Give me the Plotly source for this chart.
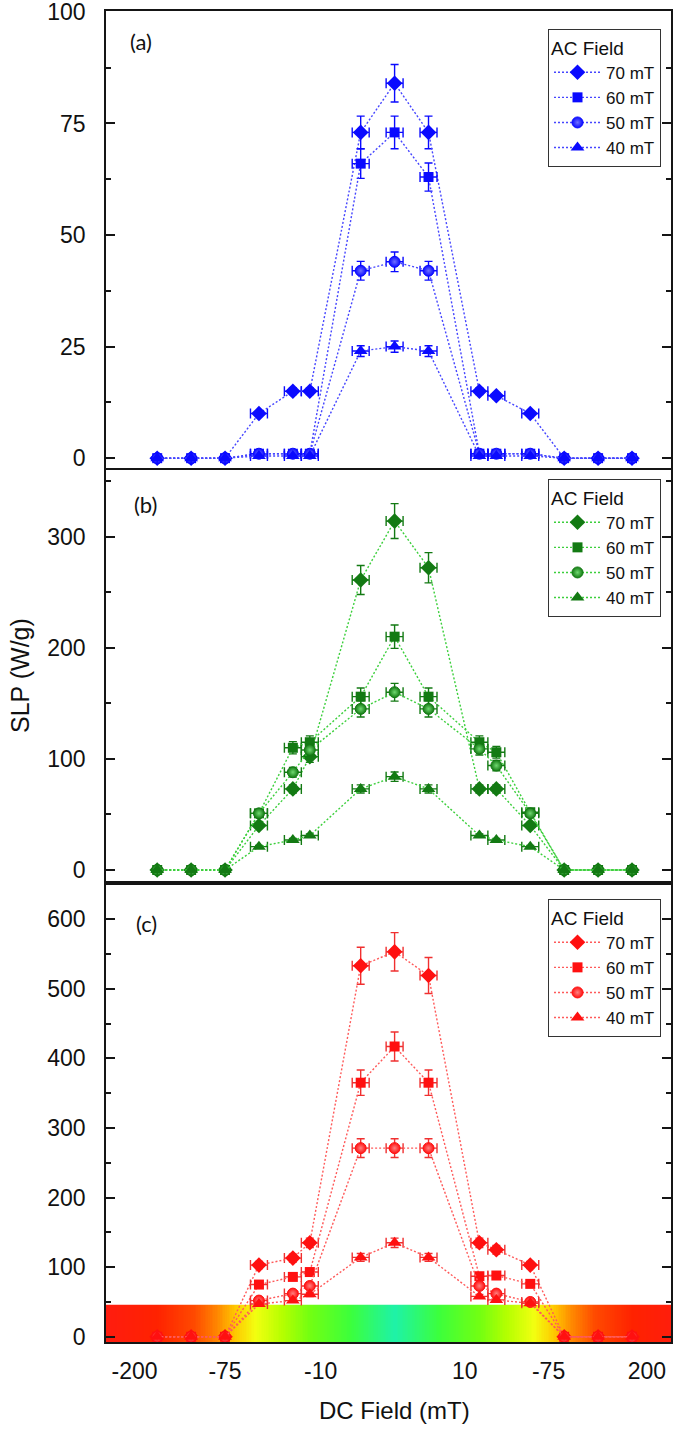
import numpy as np
import plotly.graph_objects as go

# ---------------- data ----------------
positions = [0, 1, 2, 3, 4, 4.5, 6, 7, 8, 9.5, 10, 11, 12, 13, 14]
x_err = [0, 0, 0, 0.25, 0.25, 0.25, 0.25, 0.25, 0.25, 0.25, 0.25, 0.25, 0, 0, 0]

series_names = ["70 mT", "60 mT", "50 mT", "40 mT"]

a70 = [0, 0, 0, 10, 15, 15, 73, 84, 73, 15, 14, 10, 0, 0, 0]
a60 = [0, 0, 0, 1, 1, 1, 66, 73, 63, 1, 1, 1, 0, 0, 0]
a50 = [0, 0, 0, 1, 1, 1, 42, 44, 42, 1, 1, 1, 0, 0, 0]
a40 = [0, 0, 0, 0.5, 0.5, 0.5, 24, 25, 24, 0.5, 0.5, 0.5, 0, 0, 0]

b70 = [0, 0, 0, 40, 73, 102, 261, 314, 272, 73, 73, 40, 0, 0, 0]
b60 = [0, 0, 0, 51, 110, 115, 156, 210, 156, 115, 106, 52, 0, 0, 0]
b50 = [0, 0, 0, 51, 88, 108, 145, 160, 145, 109, 94, 51, 0, 0, 0]
b40 = [0, 0, 0, 21, 27, 31, 73, 84, 73, 31, 27, 21, 0, 0, 0]

c70 = [0, 0, 0, 103, 113, 135, 533, 553, 519, 135, 125, 103, 0, 0, 0]
c60 = [0, 0, 0, 75, 86, 93, 365, 417, 365, 87, 88, 76, 0, 0, 0]
c50 = [0, 0, 0, 52, 62, 73, 271, 271, 271, 73, 62, 50, 0, 0, 0]
c40 = [0, 0, 0, 47, 52, 61, 114, 135, 114, 58, 53, 48, 0, 0, 0]

y_err_percent = 5

x_tick_vals = [-0.67, 2.0, 4.82, 9.07, 11.54, 14.44]
x_tick_text = ["-200", "-75", "-10", "10", "-75", "200"]

# gradient band (panel c): distance from centre -> colour
band_stops_d = [0, 1.3, 2.5, 3.3, 4.1, 4.7, 5.2, 5.9, 7.0, 8.6]
band_stops_c = ["#1ef2a8", "#3cff3c", "#72ff12", "#b4ff00", "#f2ff10",
                "#ffc800", "#ff8a00", "#ff4a00", "#ff2200", "#ff1c10"]

# ---------------- styling ----------------
W, H = 674, 1430
FONT = "Liberation Sans, Arial, sans-serif"
px = lambda v: v / W
py = lambda v: 1 - v / H

x_dom = [px(106), px(671)]
dom_a = [py(468), py(11)]
dom_b = [py(881), py(470)]
dom_c = [py(1342), py(885)]
x_range = [-1.51, 15.15]

symbols = ["diamond", "square", "circle", "triangle-up"]
sizes = [12, 10, 11, 12]

panels = [
    dict(data=[a70, a60, a50, a40], xa="x", ya="y", legend="legend",
         marker="#0a0aff", line="#4646ff", err="#0a0aff", hi="#7070ff"),
    dict(data=[b70, b60, b50, b40], xa="x2", ya="y2", legend="legend2",
         marker="#137a13", line="#3ccf3c", err="#137a13", hi="#70d870"),
    dict(data=[c70, c60, c50, c40], xa="x3", ya="y3", legend="legend3",
         marker="#ff1010", line="#ff5a5a", err="#f03030", hi="#ff8080"),
]

fig = go.Figure()

# gradient band in panel (c)
edges = np.linspace(-1.7, 15.3, 341)
centres = (edges[:-1] + edges[1:]) / 2
dist = np.abs(centres - 7.0)
dmax = band_stops_d[-1]
cscale = [[d / dmax, c] for d, c in zip(band_stops_d, band_stops_c)]
fig.add_trace(go.Heatmap(
    x=edges, y=[-9, 46], z=[dist.tolist()], zmin=0, zmax=dmax,
    colorscale=cscale, showscale=False, hoverinfo="skip",
    xaxis="x3", yaxis="y3", showlegend=False))

for p in panels:
    for i, (name, vals) in enumerate(zip(series_names, p["data"])):
        marker = dict(symbol=symbols[i], size=sizes[i], color=p["marker"],
                      line=dict(width=0))
        if symbols[i] == "circle":
            marker["gradient"] = dict(type="radial", color=p["hi"])
            marker["line"] = dict(width=1, color=p["marker"])
        fig.add_trace(go.Scatter(
            x=positions, y=vals, name=name, mode="lines+markers",
            line=dict(color=p["line"], width=1.4, dash="2px,2px"),
            marker=marker,
            error_y=dict(type="percent", value=y_err_percent, color=p["err"],
                         thickness=1.4, width=4),
            error_x=dict(type="data", array=x_err, color=p["err"],
                         thickness=1.4, width=5),
            xaxis=p["xa"], yaxis=p["ya"], legend=p["legend"],
        ))

axis_line = dict(showline=True, linecolor="#151515", linewidth=1.6,
                 showgrid=False, zeroline=False, automargin=False)
xcommon = dict(axis_line, domain=x_dom, range=x_range, mirror=True, ticks="")
ycommon = dict(axis_line, mirror="ticks", ticks="inside", ticklen=9,
               tickwidth=1.5, tickcolor="#151515",
               tickfont=dict(family=FONT, size=23, color="#111"),
               ticklabelstandoff=14, ticklabeloverflow="allow")


def legend_box(top_px):
    return dict(x=px(661), xanchor="right", y=py(top_px), yanchor="top",
                bgcolor="white", bordercolor="#333", borderwidth=1,
                font=dict(family=FONT, size=17, color="#111"),
                title=dict(text="AC Field", font=dict(family=FONT, size=19, color="#111")),
                itemwidth=47, tracegroupgap=0)


fig.update_layout(
    template="plotly_white",
    width=W, height=H, margin=dict(l=0, r=0, t=0, b=0, autoexpand=False),
    plot_bgcolor="white", paper_bgcolor="white",
    xaxis=dict(xcommon, anchor="y", showticklabels=False),
    xaxis2=dict(xcommon, anchor="y2", showticklabels=False),
    xaxis3=dict(xcommon, anchor="y3", tickmode="array", tickvals=x_tick_vals,
                ticktext=x_tick_text, showticklabels=True,
                tickfont=dict(family=FONT, size=23, color="#111"),
                ticklabelstandoff=8, ticklabeloverflow="allow"),
    yaxis=dict(ycommon, anchor="x", domain=dom_a, range=[-2.2, 100.2],
               tick0=0, dtick=25,
               minor=dict(ticks="inside", ticklen=5, tickwidth=1.5,
                          tickcolor="#151515", dtick=12.5, showgrid=False)),
    yaxis2=dict(ycommon, anchor="x2", domain=dom_b, range=[-9.9, 360],
                tick0=0, dtick=100,
                minor=dict(ticks="inside", ticklen=5, tickwidth=1.5,
                           tickcolor="#151515", dtick=50, showgrid=False)),
    yaxis3=dict(ycommon, anchor="x3", domain=dom_c, range=[-7.5, 649],
                tick0=0, dtick=100,
                minor=dict(ticks="inside", ticklen=5, tickwidth=1.5,
                           tickcolor="#151515", dtick=50, showgrid=False)),
    legend=legend_box(29),
    legend2=legend_box(479),
    legend3=legend_box(899),
    showlegend=True,
)

annots = [
    dict(text="(a)", x=px(141), y=py(41)),
    dict(text="(b)", x=px(145), y=py(505)),
    dict(text="(c)", x=px(146), y=py(923)),
]
for a in annots:
    fig.add_annotation(xref="paper", yref="paper", x=a["x"], y=a["y"],
                       text=a["text"], showarrow=False, xanchor="center",
                       yanchor="middle",
                       font=dict(family="Lato, Open Sans, sans-serif", size=22, color="#111"))

fig.add_annotation(xref="paper", yref="paper", x=px(394), y=py(1410),
                   text="DC Field (mT)", showarrow=False, xanchor="center",
                   yanchor="middle", font=dict(family=FONT, size=24, color="#111"))
fig.add_annotation(xref="paper", yref="paper", x=px(20), y=py(676),
                   text="SLP (W/g)", showarrow=False, textangle=-90,
                   xanchor="center", yanchor="middle",
                   font=dict(family=FONT, size=25, color="#111"))

fig.write_html("out.html", config={"displayModeBar": False},
               post_script="document.body.style.margin='0';document.body.style.overflow='hidden';")
